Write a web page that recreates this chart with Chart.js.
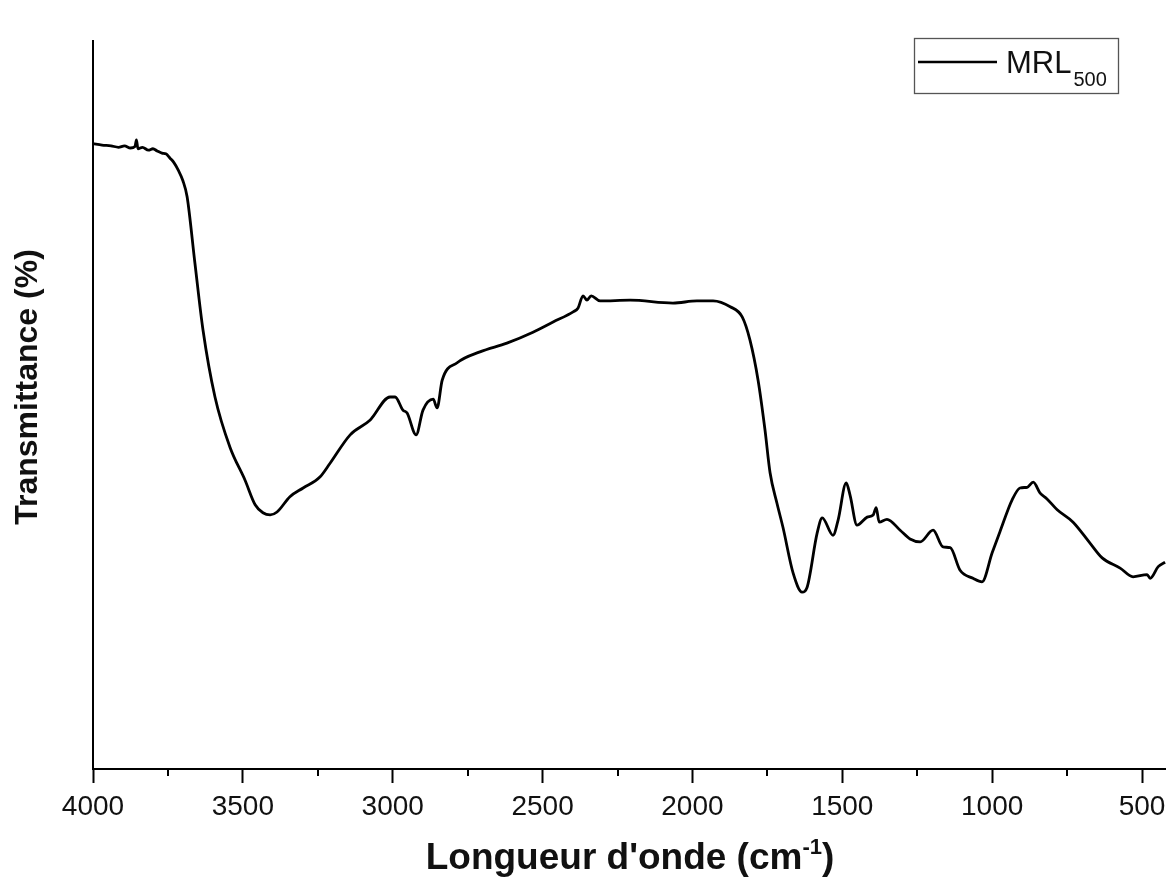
<!DOCTYPE html>
<html>
<head>
<meta charset="utf-8">
<script src="https://cdn.jsdelivr.net/npm/chart.js@4.4.1/dist/chart.umd.min.js"></script>
<style>
  html, body { margin: 0; padding: 0; background: #fff; }
  #wrap { width: 1166px; height: 879px; position: relative; }
</style>
</head>
<body>
<div id="wrap"><canvas id="ftir"></canvas></div>
<script>
// FTIR spectrum (wavenumber in cm-1, transmittance in arbitrary %)
const wavenumbers = [
  4000, 3970, 3940, 3915, 3895, 3875, 3860, 3855, 3850, 3835, 3815, 3800, 3786, 3770, 3757, 3743,
  3730, 3716, 3700, 3686, 3660, 3633, 3593, 3543, 3493, 3459, 3433, 3409, 3386, 3343, 3299, 3243,
  3209, 3142, 3076, 3009, 2992, 2966, 2952, 2922, 2899, 2865, 2852, 2835, 2785, 2709, 2619, 2532,
  2465, 2398, 2382, 2365, 2352, 2338, 2308, 2208, 2065, 1985, 1931, 1874, 1834, 1808, 1781, 1758,
  1741, 1718, 1698, 1664, 1634, 1618, 1584, 1567, 1531, 1514, 1487, 1474, 1451, 1417, 1397, 1387,
  1377, 1351, 1307, 1274, 1240, 1197, 1164, 1140, 1107, 1064, 1034, 1000, 974, 933, 907, 883,
  863, 840, 817, 783, 730, 673, 633, 573, 530, 483, 473, 446, 423
];
const transmittance = [
  85.9, 85.7, 85.6, 85.4, 85.6, 85.3, 85.5, 86.4, 85.2, 85.4, 85.0, 85.2, 84.9, 84.6, 84.5, 83.9,
  83.3, 82.3, 80.8, 78.6, 69.5, 60.3, 51.1, 44.2, 39.7, 36.3, 35.2, 34.9, 35.3, 37.4, 38.6, 40.1,
  42.0, 45.9, 47.9, 51.1, 51.1, 49.3, 48.9, 45.9, 49.3, 50.8, 49.6, 53.4, 55.8, 57.3, 58.5, 60.0,
  61.4, 62.8, 63.3, 65.0, 64.4, 65.0, 64.3, 64.4, 64.0, 64.3, 64.3, 63.5, 62.1, 58.9, 53.4, 46.6,
  40.7, 36.5, 33.2, 26.9, 24.3, 24.9, 32.4, 34.5, 32.1, 34.2, 39.3, 37.6, 33.5, 34.6, 34.9, 35.9,
  33.9, 34.3, 32.8, 31.6, 31.2, 32.8, 30.5, 30.4, 27.3, 26.2, 25.7, 29.7, 32.6, 37.0, 38.6, 38.7,
  39.4, 37.9, 37.1, 35.6, 33.9, 31.0, 29.0, 27.6, 26.4, 26.7, 26.2, 27.8, 28.4
];
const majorTicks = [4000, 3500, 3000, 2500, 2000, 1500, 1000, 500];
const minorTicks = [3750, 3250, 2750, 2250, 1750, 1250, 750];
const seriesName = 'MRL';
const seriesSub = '500';
const xTitle = "Longueur d'onde (cm";
const xTitleSup = '-1';
const yTitle = 'Transmittance (%)';

const FONT = '"Liberation Sans", Arial, Helvetica, sans-serif';

const decorations = {
  id: 'decorations',
  afterDraw(chart) {
    const ctx = chart.ctx;
    const area = chart.chartArea;
    const xs = chart.scales.x;
    ctx.save();

    // minor ticks on the wavenumber axis
    ctx.strokeStyle = '#000';
    ctx.lineWidth = 2;
    minorTicks.forEach(v => {
      const px = Math.round(xs.getPixelForValue(v));
      ctx.beginPath();
      ctx.moveTo(px, area.bottom);
      ctx.lineTo(px, area.bottom + 7);
      ctx.stroke();
    });

    // y title
    ctx.fillStyle = '#111';
    ctx.font = 'bold 32px ' + FONT;
    ctx.textAlign = 'center';
    ctx.textBaseline = 'alphabetic';
    ctx.save();
    ctx.translate(37, 387);
    ctx.rotate(-Math.PI / 2);
    ctx.fillText(yTitle, 0, 0);
    ctx.restore();

    // x title with superscript
    ctx.textAlign = 'left';
    const big = 'bold 37px ' + FONT;
    const small = 'bold 22px ' + FONT;
    ctx.font = big;
    const w1 = ctx.measureText(xTitle).width;
    const w3 = ctx.measureText(')').width;
    ctx.font = small;
    const w2 = ctx.measureText(xTitleSup).width;
    let tx = 630 - (w1 + w2 + w3) / 2;
    const base = 869;
    ctx.font = big;
    ctx.fillText(xTitle, tx, base);
    tx += w1;
    ctx.font = small;
    ctx.fillText(xTitleSup, tx, base - 15);
    tx += w2;
    ctx.font = big;
    ctx.fillText(')', tx, base);

    // legend box
    const bx = area.right - 252, by = area.top - 3, bw = 204, bh = 55;
    ctx.strokeStyle = '#555';
    ctx.lineWidth = 1.3;
    ctx.strokeRect(bx + 0.5, by + 0.5, bw, bh);
    ctx.strokeStyle = '#000';
    ctx.lineWidth = 2.5;
    ctx.beginPath();
    ctx.moveTo(bx + 4, by + 24);
    ctx.lineTo(bx + 83, by + 24);
    ctx.stroke();
    ctx.font = '31px ' + FONT;
    ctx.fillText(seriesName, bx + 92, by + 35);
    const wm = ctx.measureText(seriesName).width;
    ctx.font = '20px ' + FONT;
    ctx.fillText(seriesSub, bx + 92 + wm + 2, by + 48);

    ctx.restore();
  }
};

new Chart(document.getElementById('ftir'), {
  type: 'line',
  data: {
    datasets: [{
      label: seriesName + seriesSub,
      data: wavenumbers.map((x, i) => ({ x: x, y: transmittance[i] })),
      borderColor: '#000',
      borderWidth: 2.8,
      pointRadius: 0,
      fill: false,
      cubicInterpolationMode: 'monotone'
    }]
  },
  options: {
    responsive: true,
    maintainAspectRatio: false,
    animation: false,
    layout: { padding: { top: 41, right: 0, left: 0, bottom: 0 } },
    plugins: {
      legend: { display: false },
      tooltip: { enabled: false }
    },
    scales: {
      x: {
        type: 'linear',
        reverse: true,
        min: 420,
        max: 4000,
        afterBuildTicks: (scale) => { scale.ticks = majorTicks.map(v => ({ value: v })); },
        afterFit: (scale) => {
          scale.height = 110;
          scale.paddingLeft = 0;
          scale.paddingRight = 0;
        },
        grid: {
          drawOnChartArea: false,
          drawTicks: true,
          tickLength: 14,
          tickWidth: 2,
          tickColor: '#000'
        },
        border: { display: true, color: '#000', width: 2 },
        ticks: {
          color: '#111',
          padding: 7,
          maxRotation: 0,
          autoSkip: false,
          font: { family: FONT, size: 28 },
          callback: (v) => String(v)
        }
      },
      y: {
        min: 0,
        max: 100,
        afterFit: (scale) => { scale.width = 93; },
        grid: { drawOnChartArea: false, drawTicks: false },
        border: { display: true, color: '#000', width: 2 },
        ticks: { display: false }
      }
    }
  },
  plugins: [decorations]
});
</script>
</body>
</html>
